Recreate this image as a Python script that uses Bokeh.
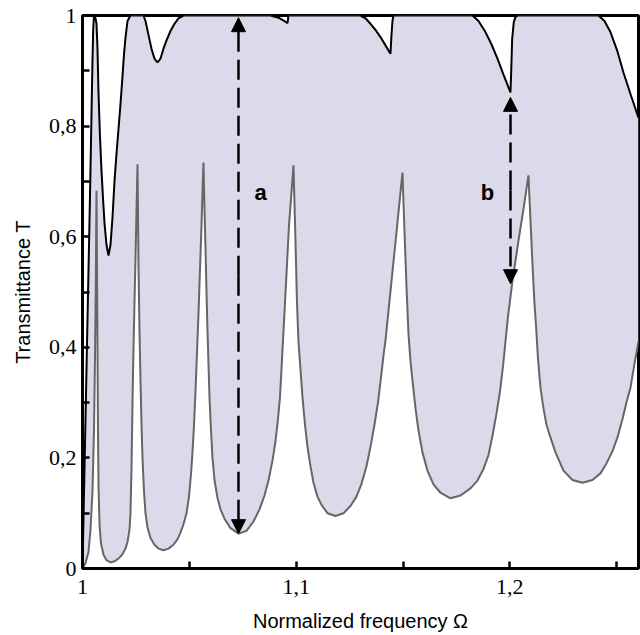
from bokeh.plotting import figure
from bokeh.models import (FixedTicker, CustomJSTickFormatter, Arrow, NormalHead,
                          Label, Range1d)
from bokeh.embed import file_html
from bokeh.resources import INLINE

# ---- data ----
# upper envelope (black curve)
upper_x = [1.00000, 1.00187, 1.00342, 1.00421, 1.00468, 1.00501, 1.00538, 1.00608,
           1.00655, 1.00702, 1.00749, 1.00819, 1.00889, 1.00959, 1.01029, 1.01123,
           1.01217, 1.01310, 1.01404, 1.01497, 1.01591, 1.01685, 1.01778, 1.01872,
           1.01942, 1.02012, 1.02106, 1.02246, 1.02854, 1.02948, 1.03088, 1.03229,
           1.03369, 1.03510, 1.03650, 1.03790, 1.03931, 1.04118, 1.04305, 1.04492,
           1.04726, 1.08797, 1.09172, 1.09453, 1.09593, 1.09640, 1.13009, 1.13243,
           1.13477, 1.13711, 1.13945, 1.14179, 1.14413, 1.14460, 1.14506, 1.14553,
           1.18250, 1.18531, 1.18858, 1.19139, 1.19420, 1.19701, 1.20028, 1.20061,
           1.20108, 1.20183, 1.20262, 1.20356, 1.24146, 1.24427, 1.24708, 1.25035,
           1.25316, 1.25644, 1.26018]
upper_T = [0.0, 0.36, 0.656, 0.82, 0.92, 0.975, 1.0, 0.995,
           0.985, 0.94, 0.86, 0.78, 0.72, 0.67, 0.625, 0.585,
           0.566, 0.585, 0.635, 0.70, 0.75, 0.795, 0.84, 0.89,
           0.93, 0.96, 0.99, 1.0, 1.0, 0.99, 0.965, 0.94,
           0.922, 0.915, 0.922, 0.94, 0.955, 0.972, 0.985, 0.995,
           1.0, 1.0, 0.996, 0.99, 0.986, 1.0, 1.0, 0.995,
           0.985, 0.974, 0.961, 0.946, 0.931, 0.965, 0.99, 1.0,
           1.0, 0.99, 0.970, 0.948, 0.922, 0.893, 0.861, 0.897,
           0.958, 0.988, 0.997, 1.0, 1.0, 0.99, 0.970, 0.935,
           0.897, 0.858, 0.815]

# lower envelope (grey curve)
lower_x = [1.00000, 1.00140, 1.00281, 1.00374, 1.00468, 1.00538, 1.00585, 1.00623,
           1.00655,
           1.00679, 1.00702, 1.00725, 1.00749, 1.00796, 1.00866, 1.00983, 1.01123,
           1.01310, 1.01497, 1.01685, 1.01872, 1.02012, 1.02106, 1.02199, 1.02246,
           1.02293, 1.02340, 1.02387, 1.02433, 1.02480, 1.02527, 1.02574,
           1.02597, 1.02621, 1.02667, 1.02714, 1.02761, 1.02808, 1.02878, 1.02948,
           1.03042, 1.03182, 1.03369, 1.03556, 1.03790, 1.04024, 1.04258, 1.04446,
           1.04586, 1.04726, 1.04867, 1.04984, 1.05077, 1.05147, 1.05218, 1.05288,
           1.05358, 1.05428, 1.05498, 1.05569, 1.05615, 1.05662,
           1.05686, 1.05709, 1.05756, 1.05803, 1.05849, 1.05896, 1.05943, 1.06013,
           1.06083, 1.06177, 1.06317, 1.06458, 1.06645, 1.06926, 1.07300, 1.07674,
           1.08002, 1.08283, 1.08517, 1.08704, 1.08891, 1.09031, 1.09148, 1.09242,
           1.09312, 1.09382, 1.09476, 1.09570, 1.09663, 1.09780, 1.09874,
           1.09921, 1.09967, 1.10038, 1.10108, 1.10201, 1.10295, 1.10412, 1.10529,
           1.10669, 1.10810, 1.10997, 1.11184, 1.11465, 1.11839, 1.12213, 1.12541,
           1.12822, 1.13056, 1.13290, 1.13477, 1.13664, 1.13828, 1.13968, 1.14085,
           1.14179, 1.14343, 1.14506, 1.14647, 1.14834, 1.14974,
           1.15068, 1.15162, 1.15255, 1.15349, 1.15442, 1.15583, 1.15723, 1.15910,
           1.16144, 1.16425, 1.16753, 1.17221, 1.17689, 1.18156, 1.18484, 1.18765,
           1.18999, 1.19186, 1.19373, 1.19537, 1.19677, 1.19794, 1.19911, 1.20122,
           1.20403, 1.20637, 1.20871,
           1.20964, 1.21058, 1.21151, 1.21222, 1.21315, 1.21432, 1.21572, 1.21713,
           1.21900, 1.22134, 1.22508, 1.22930, 1.23398, 1.23865, 1.24240, 1.24521,
           1.24801, 1.25035, 1.25269, 1.25456, 1.25644, 1.25831, 1.26018]
lower_T = [0.0, 0.01, 0.03, 0.07, 0.14, 0.25, 0.38, 0.52,
           0.683,
           0.55, 0.40, 0.25, 0.15, 0.08, 0.045, 0.025, 0.015,
           0.011, 0.013, 0.018, 0.026, 0.036, 0.048, 0.07, 0.10,
           0.18, 0.30, 0.40, 0.48, 0.56, 0.645, 0.731,
           0.64, 0.55, 0.43, 0.34, 0.26, 0.20, 0.14, 0.10,
           0.074, 0.055, 0.043, 0.036, 0.033, 0.036, 0.043, 0.053,
           0.065, 0.08, 0.10, 0.13, 0.17, 0.21, 0.26, 0.32,
           0.39, 0.46, 0.54, 0.62, 0.68, 0.734,
           0.69, 0.65, 0.58, 0.50, 0.43, 0.37, 0.31, 0.25,
           0.20, 0.16, 0.128, 0.107, 0.09, 0.073, 0.063, 0.068,
           0.085, 0.107, 0.132, 0.159, 0.195, 0.23, 0.27, 0.31,
           0.36, 0.412, 0.48, 0.55, 0.62, 0.68, 0.729,
           0.66, 0.593, 0.48, 0.41, 0.36, 0.31, 0.26, 0.22,
           0.185, 0.155, 0.13, 0.115, 0.10, 0.095, 0.10, 0.113,
           0.13, 0.153, 0.185, 0.22, 0.26, 0.30, 0.345, 0.385,
           0.412, 0.475, 0.537, 0.59, 0.662, 0.716,
           0.61, 0.51, 0.425, 0.375, 0.34, 0.29, 0.25, 0.21,
           0.177, 0.152, 0.137, 0.127, 0.132, 0.145, 0.159, 0.18,
           0.205, 0.24, 0.28, 0.32, 0.365, 0.41, 0.455, 0.52,
           0.593, 0.65, 0.711,
           0.63, 0.55, 0.48, 0.44, 0.38, 0.327, 0.29, 0.26,
           0.237, 0.21, 0.177, 0.16, 0.155, 0.16, 0.172, 0.19,
           0.212, 0.237, 0.27, 0.30, 0.327, 0.37, 0.41]

# double arrows a, b
arrow_names = ["a", "b"]
arrow_x = [1.0730, 1.2003]
arrow_lo = [0.063, 0.515]
arrow_hi = [0.996, 0.852]
label_x = [1.0833, 1.1895]
label_y = [0.680, 0.680]

x_ticks = [1.0, 1.1, 1.2]
x_minor = [1.05, 1.15, 1.25]
y_ticks = [0.0, 0.2, 0.4, 0.6, 0.8, 1.0]
y_minor = [0.1, 0.3, 0.5, 0.7, 0.9]

# ---- figure ----
p = figure(width=640, height=635, output_backend="svg", toolbar_location=None,
           x_range=Range1d(1.0, 1.2602), y_range=Range1d(0.0, 1.0),
           min_border_left=82, min_border_right=2, min_border_top=15,
           min_border_bottom=67)
p.background_fill_color = "white"
p.border_fill_color = "white"
p.grid.visible = False
p.outline_line_color = "black"
p.outline_line_width = 3

fill_x = upper_x + lower_x[::-1]
fill_y = upper_T + lower_T[::-1]
p.patch(fill_x, fill_y, fill_color="#dadaea", line_color=None)
p.line(lower_x, lower_T, line_color="#666666", line_width=2)
p.line(upper_x, upper_T, line_color="black", line_width=2)

for ax, lo, hi in zip(arrow_x, arrow_lo, arrow_hi):
    for tip in (hi, lo):
        p.add_layout(Arrow(x_start=ax, y_start=(lo + hi) / 2, x_end=ax, y_end=tip,
                           line_width=2.5, line_dash="20 8", line_color="black",
                           end=NormalHead(size=14, fill_color="black",
                                          line_color="black")))

for name, lx, ly in zip(arrow_names, label_x, label_y):
    p.add_layout(Label(x=lx, y=ly, text=name, text_align="center",
                       text_baseline="alphabetic", text_font="Liberation Sans",
                       text_font_size="22px", text_font_style="bold",
                       text_color="black"))

fmt = CustomJSTickFormatter(
    code="var s = (Math.round(tick*10)/10).toString(); return s.replace('.', ',');")

xa = p.xaxis[0]
xa.ticker = FixedTicker(ticks=x_ticks, minor_ticks=x_minor)
xa.formatter = fmt
ya = p.yaxis[0]
ya.ticker = FixedTicker(ticks=y_ticks, minor_ticks=y_minor)
ya.formatter = fmt

for ax in (xa, ya):
    ax.axis_line_width = 3
    ax.axis_line_color = "black"
    ax.major_tick_in = 7
    ax.major_tick_out = 0
    ax.minor_tick_in = 7
    ax.minor_tick_out = 0
    ax.major_tick_line_width = 2.5
    ax.minor_tick_line_width = 2.5
    ax.major_label_text_font = "Liberation Serif"
    ax.major_label_text_font_size = "22px"
    ax.major_label_text_color = "black"
    ax.axis_label_text_font = "Liberation Sans"
    ax.axis_label_text_font_size = "20px"
    ax.axis_label_text_font_style = "normal"
    ax.axis_label_text_color = "black"

xa.major_label_standoff = 11
ya.major_label_standoff = 6
xa.axis_label = "Normalized frequency \u03a9"
xa.axis_label_standoff = 13
ya.axis_label = "Transmittance T"
ya.axis_label_standoff = 12

open("out.html", "w").write(file_html(p, INLINE))
